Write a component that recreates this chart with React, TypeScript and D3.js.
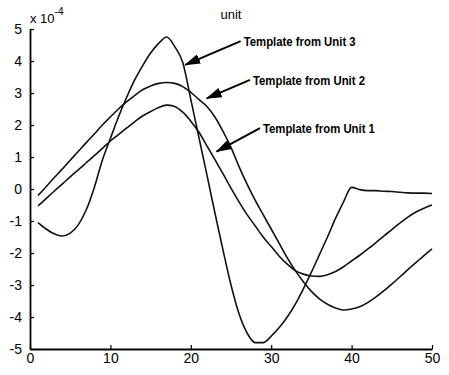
import React, { useEffect, useRef } from "react";
import * as d3 from "d3";

// values are in units of 1e-4 (shown as "x 10^-4" above the y axis)
const samples = d3.range(1, 51);

const unit1 = [
  -0.53, -0.3, -0.07, 0.15, 0.38, 0.6, 0.82, 1.04, 1.27, 1.5,
  1.7, 1.9, 2.1, 2.28, 2.42, 2.55, 2.62, 2.58, 2.4, 2.12,
  1.78, 1.35, 0.92, 0.48, 0.03, -0.4, -0.8, -1.15, -1.5, -1.8,
  -2.1, -2.35, -2.55, -2.66, -2.72, -2.73, -2.68, -2.58, -2.43, -2.25,
  -2.07, -1.88, -1.68, -1.47, -1.27, -1.07, -0.88, -0.72, -0.6, -0.5,
];

const unit2 = [
  -0.2, 0.07, 0.35, 0.62, 0.9, 1.17, 1.45, 1.72, 2.0, 2.25,
  2.5, 2.72, 2.92, 3.1, 3.22, 3.3, 3.33, 3.3, 3.2, 3.02,
  2.8, 2.58, 2.25, 1.8, 1.3, 0.7, 0.15, -0.35, -0.8, -1.25,
  -1.7, -2.15, -2.55, -2.9, -3.2, -3.43, -3.6, -3.72, -3.78, -3.75,
  -3.68, -3.55, -3.38, -3.18, -2.97, -2.75, -2.52, -2.3, -2.08, -1.87,
];

const unit3 = [
  -1.05, -1.25, -1.4, -1.47, -1.38, -1.12, -0.65, 0.05, 0.9, 1.58,
  2.25, 2.85, 3.4, 3.85, 4.25, 4.55, 4.75, 4.45, 3.95, 2.8,
  1.62, 0.45, -0.75, -1.9, -3.0, -3.9, -4.5, -4.8, -4.8, -4.6,
  -4.33, -4.0, -3.6, -3.12, -2.6, -2.05, -1.5, -0.92, -0.4, 0.05,
  -0.02, -0.05, -0.05, -0.07, -0.08, -0.1, -0.12, -0.13, -0.13, -0.14,
];

const xTicks = [0, 10, 20, 30, 40, 50];
const yTicks = [-5, -4, -3, -2, -1, 0, 1, 2, 3, 4, 5];

// annotation labels, arrow tail and arrow tip in data coordinates
const labels = ["Template from Unit 3", "Template from Unit 2", "Template from Unit 1"];
const arrowTail = [[26.2, 4.62], [27.36, 3.41], [28.6, 1.9]];
const arrowTip = [[19.3, 3.88], [21.98, 2.83], [23.2, 1.17]];

function App() {
  const ref = useRef(null);

  useEffect(() => {
    const width = 449, height = 375;
    const margin = { top: 29, right: 17, bottom: 26, left: 30 };

    const svg = d3.select(ref.current);
    svg.selectAll("*").remove();

    const x = d3.scaleLinear().domain([0, 50]).range([margin.left, width - margin.right]);
    const y = d3.scaleLinear().domain([-5, 5]).range([height - margin.bottom, margin.top]);

    const font = "'Liberation Sans', Arial, sans-serif";
    const plain = d => String(d); // keep ascii hyphen for negatives

    // arrow head marker
    svg.append("defs")
      .append("marker")
        .attr("id", "head")
        .attr("viewBox", "0 0 16 10")
        .attr("refX", 15)
        .attr("refY", 5)
        .attr("markerWidth", 16)
        .attr("markerHeight", 10)
        .attr("markerUnits", "userSpaceOnUse")
        .attr("orient", "auto")
      .append("path")
        .attr("d", "M0,0 L16,5 L0,10 Z")
        .attr("fill", "#000");

    // bottom axis, ticks pointing inward
    const xAxis = svg.append("g")
      .attr("transform", `translate(0,${y(-5)})`)
      .call(d3.axisBottom(x).tickValues(xTicks).tickFormat(plain).tickSizeInner(-4).tickSizeOuter(0).tickPadding(6));
    xAxis.select(".domain").attr("stroke", "#000").attr("stroke-width", 1.8);
    xAxis.selectAll(".tick line").attr("stroke", "#000").attr("stroke-width", 1.2);
    xAxis.selectAll(".tick text")
      .attr("font-family", font)
      .attr("font-size", 14)
      .attr("fill", "#000")
      .attr("dy", "0.55em");

    // left axis
    const yAxis = svg.append("g")
      .attr("transform", `translate(${x(0)},0)`)
      .call(d3.axisLeft(y).tickValues(yTicks).tickFormat(plain).tickSizeInner(-4).tickSizeOuter(0).tickPadding(8));
    yAxis.select(".domain").attr("stroke", "#000").attr("stroke-width", 1.8);
    yAxis.selectAll(".tick line").attr("stroke", "#000").attr("stroke-width", 1.2);
    yAxis.selectAll(".tick text")
      .attr("font-family", font)
      .attr("font-size", 14)
      .attr("fill", "#000");

    // exponent label
    const expo = svg.append("text")
      .attr("x", x(0))
      .attr("y", 23)
      .attr("font-family", font)
      .attr("font-size", 13)
      .attr("fill", "#000");
    expo.append("tspan").text("x 10");
    expo.append("tspan").attr("dy", -8).attr("font-size", 10).text("-4");

    // title
    svg.append("text")
      .attr("x", 231)
      .attr("y", 19)
      .attr("text-anchor", "middle")
      .attr("font-family", font)
      .attr("font-size", 13)
      .attr("fill", "#000")
      .text("unit");

    // the three templates
    const line = d3.line()
      .x((d, i) => x(samples[i]))
      .y(d => y(d))
      .curve(d3.curveMonotoneX);

    [unit1, unit2, unit3].forEach(series => {
      svg.append("path")
        .datum(series)
        .attr("d", line)
        .attr("fill", "none")
        .attr("stroke", "#111")
        .attr("stroke-width", 1.6)
        .attr("stroke-linejoin", "round");
    });

    // annotations with arrows
    labels.forEach((label, i) => {
      svg.append("line")
        .attr("x1", x(arrowTail[i][0]))
        .attr("y1", y(arrowTail[i][1]))
        .attr("x2", x(arrowTip[i][0]))
        .attr("y2", y(arrowTip[i][1]))
        .attr("stroke", "#000")
        .attr("stroke-width", 2)
        .attr("marker-end", "url(#head)");

      svg.append("text")
        .attr("x", x(arrowTail[i][0]) + 3)
        .attr("y", y(arrowTail[i][1]) + 5)
        .attr("font-family", font)
        .attr("font-weight", "bold")
        .attr("font-size", 12)
        .attr("textLength", 112)
        .attr("lengthAdjust", "spacingAndGlyphs")
        .attr("fill", "#000")
        .text(label);
    });
  }, []);

  return (
    <svg
      ref={ref}
      width={449}
      height={375}
      style={{ position: "absolute", left: 0, top: 0, background: "#fff" }}
    />
  );
}

export default App;
